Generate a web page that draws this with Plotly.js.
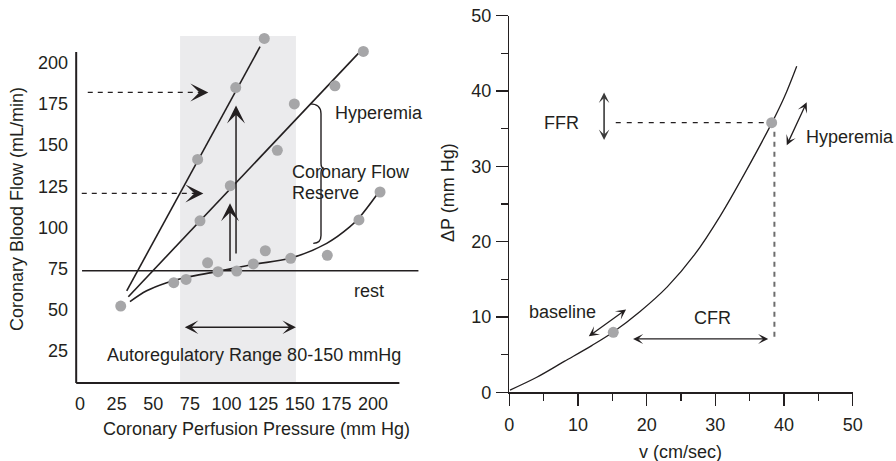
<!DOCTYPE html>
<html><head><meta charset="utf-8">
<script src="https://cdn.plot.ly/plotly-3.0.1.min.js"></script>
<style>html,body{margin:0;padding:0;background:#fff}#chart{width:896px;height:461px}</style>
</head><body><div id="chart"></div>
<script>
// ---------- Left panel: autoregulation ----------
const pressureTicks = [0, 25, 50, 75, 100, 125, 150, 175, 200];
const flowTicks = [25, 50, 75, 100, 125, 150, 175, 200];

const restPressure = [27.8, 64, 72.4, 87.1, 94.2, 107, 118.3, 126.5, 143.8, 168.8, 190.4, 204.8];
const restFlow     = [52.2, 66.4, 68.4, 78.5, 73.1, 73.5, 77.8, 85.8, 81.2, 83, 104.5, 121.5];
const restCurvePressure = [34.1, 45.5, 59.2, 72.8, 93.3, 118, 143.3, 168.4, 184.3, 191.1, 202.5];
const restCurveFlow     = [54.9, 61.5, 66.4, 69.7, 73.1, 77.5, 81.2, 90.3, 100.4, 106.5, 119.7];

const hypSteepPressure = [80.3, 106.3, 125.8];
const hypSteepFlow     = [141.3, 184.9, 214.8];
const hypSteepLinePressure = [31.9, 122.9];
const hypSteepLineFlow     = [61.5, 209.8];

const hypPressure = [81.9, 102.6, 134.7, 146.3, 174, 193.4];
const hypFlow     = [104, 125.3, 146.8, 175, 186, 206.9];
const hypLinePressure = [33, 190];
const hypLineFlow     = [57.9, 205.7];

const restLevelPressure = [1.4, 231];
const restLevelFlow = [73.7, 73.7];
const autoregBand = [68.3, 147.4];

const dashTopPressure = [5.3, 81.5];   const dashTopFlow = [182, 182];
const dashLowPressure = [1.2, 78.0];   const dashLowFlow = [120.6, 120.6];

// ---------- Right panel: pressure-velocity ----------
const vTicks = [0, 10, 20, 30, 40, 50];
const dpTicks = [0, 10, 20, 30, 40, 50];
const curveV  = [0.1, 4, 8, 12, 15.14, 19, 23, 27, 30.7, 34.6, 38.25, 40, 41.85];
const curveDP = [0.3, 2.0, 4.1, 6.2, 8.0, 10.7, 14.0, 18.3, 23.4, 29.6, 35.8, 39.1, 43.3];
const markerV  = [15.14, 38.2];
const markerDP = [7.97, 35.8];
const ffrDashV = [15.5, 37.6];  const ffrDashDP = [35.8, 35.8];
const cfrDashV = [38.6, 38.6];  const cfrDashDP = [34.6, 6.7];

// ---------- helpers ----------
const W = 896, H = 461;
const px = p => p / W, py = p => 1 - p / H;
const INK = '#231f20', DOT = '#a6a6a8', FONT = 'Liberation Sans, Arial, sans-serif';

const traces = [
  {x: restCurvePressure, y: restCurveFlow, mode: 'lines', line: {color: INK, width: 1.6, shape: 'spline', smoothing: 1}, xaxis: 'x', yaxis: 'y'},
  {x: hypSteepLinePressure, y: hypSteepLineFlow, mode: 'lines', line: {color: INK, width: 1.6}, xaxis: 'x', yaxis: 'y'},
  {x: hypLinePressure, y: hypLineFlow, mode: 'lines', line: {color: INK, width: 1.6}, xaxis: 'x', yaxis: 'y'},
  {x: restLevelPressure, y: restLevelFlow, mode: 'lines', line: {color: INK, width: 1.4}, xaxis: 'x', yaxis: 'y'},
  {x: dashTopPressure, y: dashTopFlow, mode: 'lines', line: {color: INK, width: 1.2, dash: '5px,5px'}, xaxis: 'x', yaxis: 'y'},
  {x: dashLowPressure, y: dashLowFlow, mode: 'lines', line: {color: INK, width: 1.2, dash: '5px,5px'}, xaxis: 'x', yaxis: 'y'},
  {x: restPressure, y: restFlow, mode: 'markers', marker: {color: DOT, size: 11}, xaxis: 'x', yaxis: 'y'},
  {x: hypSteepPressure, y: hypSteepFlow, mode: 'markers', marker: {color: DOT, size: 11}, xaxis: 'x', yaxis: 'y'},
  {x: hypPressure, y: hypFlow, mode: 'markers', marker: {color: DOT, size: 11}, xaxis: 'x', yaxis: 'y'},

  {x: curveV, y: curveDP, mode: 'lines', line: {color: INK, width: 1.3, shape: 'spline', smoothing: 1}, xaxis: 'x2', yaxis: 'y2'},
  {x: ffrDashV, y: ffrDashDP, mode: 'lines', line: {color: INK, width: 1.2, dash: '5px,6px'}, xaxis: 'x2', yaxis: 'y2'},
  {x: cfrDashV, y: cfrDashDP, mode: 'lines', line: {color: '#6d6d6d', width: 2, dash: '5px,5px'}, xaxis: 'x2', yaxis: 'y2'},
  {x: markerV, y: markerDP, mode: 'markers', marker: {color: DOT, size: 11}, xaxis: 'x2', yaxis: 'y2'}
];

const tf = {family: FONT, size: 18, color: INK};

function txt(text, x, y, xref, yref, anchor, extra) {
  return Object.assign({text, x, y, xref, yref, showarrow: false, xanchor: anchor || 'center', yanchor: 'middle', font: tf}, extra || {});
}
function arrow(xh, yh, xt, yt, xr, yr, both, opts) {
  return Object.assign({x: xh, y: yh, ax: xt, ay: yt, xref: xr, yref: yr, axref: xr, ayref: yr,
    text: '', showarrow: true, arrowhead: 3, startarrowhead: 3, arrowsize: 1.3, startarrowsize: 1.3,
    arrowwidth: 1.3, arrowcolor: INK,
    arrowside: both ? 'end+start' : 'end', standoff: 0, startstandoff: 0}, opts || {});
}
const bigHead = {arrowwidth: 1.5, arrowsize: 2.0, startarrowsize: 2.0};

const annotations = [
  // left texts
  txt('Hyperemia', 172.7, 169.6, 'x', 'y', 'left'),
  txt('Coronary Flow', 143.3, 133.5, 'x', 'y', 'left'),
  txt('Reserve', 143.3, 120.7, 'x', 'y', 'left'),
  txt('rest', 185.5, 61.4, 'x', 'y', 'left'),
  txt('Autoregulatory Range 80-150 mmHg', 119.1, 22.5, 'x', 'y', 'center'),
  // left arrows
  arrow(106.5, 174, 106.5, 83.2, 'x', 'y', false, bigHead),
  arrow(102.4, 114.6, 102.4, 78.6, 'x', 'y', false, bigHead),
  arrow(147.4, 39.3, 70.5, 39.3, 'x', 'y', true, {arrowwidth: 1.5, arrowsize: 1.5, startarrowsize: 1.5}),
  arrow(87.6, 182, 81.5, 182, 'x', 'y', false, bigHead),
  arrow(84.2, 120.6, 78.0, 120.6, 'x', 'y', false, bigHead),
  // right texts
  txt('FFR', 7.6, 35.7, 'x2', 'y2', 'center'),
  txt('Hyperemia', 42.9, 33.9, 'x2', 'y2', 'left'),
  txt('baseline', 7.7, 10.7, 'x2', 'y2', 'center'),
  txt('CFR', 29.6, 9.8, 'x2', 'y2', 'center'),
  // right arrows
  arrow(13.8, 39.8, 13.8, 33.3, 'x2', 'y2', true, {arrowcolor: '#3a3a3a', arrowwidth: 1.6, arrowsize: 1.1, startarrowsize: 1.1}),
  arrow(43.3, 38.5, 40.3, 32.6, 'x2', 'y2', true),
  arrow(17.0, 11.0, 11.36, 7.3, 'x2', 'y2', true),
  arrow(37.7, 7.08, 17.8, 7.08, 'x2', 'y2', true),
  // axis titles
  txt('Coronary Blood Flow (mL/min)', px(17), py(209), 'paper', 'paper', 'center', {textangle: -90}),
  txt('Coronary Perfusion Pressure (mm Hg)', px(256), py(429), 'paper', 'paper', 'center'),
  txt('ΔP (mm Hg)', px(448), py(193), 'paper', 'paper', 'center', {textangle: -90}),
  txt('v (cm/sec)', px(680), py(452), 'paper', 'paper', 'center')
];

const shapes = [
  {type: 'rect', xref: 'x', yref: 'y', x0: autoregBand[0], x1: autoregBand[1], y0: 5.5, y1: 216.3,
   fillcolor: '#ebebed', line: {width: 0}, layer: 'below'},
  {type: 'line', xref: 'x', yref: 'y', x0: -2.6, x1: 218, y0: 5.5, y1: 5.5, line: {color: INK, width: 2}},
  {type: 'line', xref: 'x', yref: 'y', x0: -2.6, x1: -2.6, y0: 5.5, y1: 206.6, line: {color: INK, width: 2}},
  {type: 'path', xref: 'x', yref: 'y', line: {color: INK, width: 1.4},
   path: 'M 157,175 Q 164.5,175 164.5,169 L 164.5,139 Q 164.5,136 166.5,136 Q 164.5,136 164.5,133 L 164.5,95 Q 164.5,90.3 159.2,90.3'}
];

const rightAxis = {
  range: [0, 50], showline: true, linecolor: INK, linewidth: 1.5, showgrid: false, zeroline: false,
  ticks: 'outside', ticklen: 12, tickwidth: 1.5, tickcolor: INK, tickfont: tf, ticklabelstandoff: 3,
  minor: {dtick: 5, ticks: 'outside', ticklen: 7, tickwidth: 1.5, tickcolor: INK, showgrid: false},
  automargin: false, fixedrange: true
};

const layout = {
  width: W, height: H, margin: {l: 0, r: 0, t: 0, b: 0}, paper_bgcolor: '#fff', plot_bgcolor: 'rgba(0,0,0,0)',
  showlegend: false, font: tf,
  xaxis: {domain: [px(72), px(430)], range: [-5.46, 238.9], showline: false, showgrid: false, zeroline: false,
          tickvals: pressureTicks, ticks: '', tickfont: tf, anchor: 'y', automargin: false, ticklabelstandoff: 3},
  yaxis: {domain: [py(388), py(30)], range: [2.43, 219.9], showline: false, showgrid: false, zeroline: false,
          tickvals: flowTicks, ticks: '', tickfont: tf, anchor: 'x', automargin: false, ticklabelstandoff: 3},
  xaxis2: Object.assign({}, rightAxis, {domain: [px(509.3), px(852.7)], anchor: 'y2', tickvals: vTicks, ticklabelstandoff: 4}),
  yaxis2: Object.assign({}, rightAxis, {domain: [py(392.3), py(15.7)], anchor: 'x2', tickvals: dpTicks, ticklabelstandoff: 1}),
  annotations, shapes
};

Plotly.newPlot('chart', traces, layout, {staticPlot: true, displayModeBar: false});
</script></body></html>
